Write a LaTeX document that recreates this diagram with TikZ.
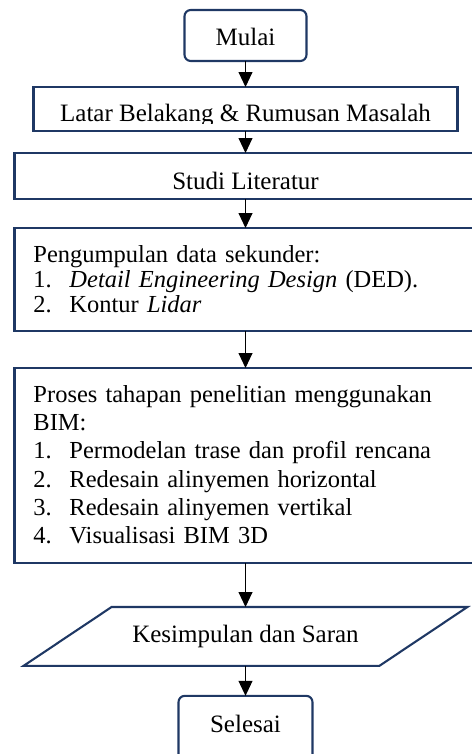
\documentclass[tikz,border=0pt,12pt]{standalone}
\usepackage{fontspec}
\setmainfont{Liberation Serif}
\usetikzlibrary{positioning, arrows.meta}
\definecolor{biru}{RGB}{31,56,100}
\newcommand{\butir}[2]{\makebox[17.28pt][l]{#1}#2}
\tikzset{
    >={Triangle[length=7.2pt, width=6.7pt]},      % filled arrow heads
    kotak/.style={draw=biru, line width=1pt, inner sep=0pt, outer sep=0pt},   % every box
    terminal/.style={kotak, rounded corners=3pt},              % Mulai / Selesai
    isi/.style={kotak, minimum width=221.76pt, text width=203.52pt,
        inner xsep=9.12pt, align=left},                        % boxes with lists
    panah/.style={->, line width=0.5pt},
}

\begin{document}
\begin{tikzpicture}[font=\fontsize{12pt}{13.8pt}\selectfont]
\useasboundingbox (0,0) rectangle (226.08pt,-361.92pt);

\node[terminal, minimum width=58.56pt, text height=16.8pt, text depth=7.68pt, anchor=north] (mulai) at (117.84pt,-4.8pt) {Mulai};
\node[kotak, below=12.48pt of mulai, minimum width=203.52pt, minimum height=21.12pt] (latar) {};
\begin{scope}
\clip ([yshift=3.6pt]latar.south west) rectangle (latar.north east);
\node[anchor=base, inner sep=0pt] (latarteks) at ([yshift=-16.7pt]latar.north) {Latar Belakang \& Rumusan Masalah};
\end{scope}
\node[kotak, below=10.56pt of latar, minimum width=221.76pt, text height=17.28pt, text depth=4.8pt] (studi) {Studi Literatur};
\node[isi, below=13.92pt of studi, text height=16.32pt, text depth=33.12pt, font=\fontsize{11.75pt}{12pt}\selectfont] (data)
    {Pengumpulan data sekunder:\\
     \butir{1.}{\textit{Detail Engineering Design} (DED).}\\
     \butir{2.}{Kontur \textit{Lidar}}};
\node[isi, below=17.76pt of data, text height=16.32pt, text depth=77.28pt, font=\fontsize{11.75pt}{13.6pt}\selectfont] (bim)
    {Proses tahapan penelitian menggunakan\\
     BIM:\\
     \butir{1.}{Permodelan trase dan profil rencana}\\
     \butir{2.}{Redesain alinyemen horizontal}\\
     \butir{3.}{Redesain alinyemen vertikal}\\
     \butir{4.}{Visualisasi BIM 3D}};
\node[below=21.12pt of bim, inner sep=0pt, minimum width=170.4pt, text height=16.8pt, text depth=11.04pt] (kesimpulan) {Kesimpulan dan Saran};
\draw[draw=biru, line width=1pt]
    ([xshift=21.12pt]kesimpulan.north west) -- ([xshift=21.12pt]kesimpulan.north east)
    -- ([xshift=-21.12pt]kesimpulan.south east) -- ([xshift=-21.12pt]kesimpulan.south west) -- cycle;
\node[terminal, below=14.4pt of kesimpulan, minimum width=64.32pt, text height=17.76pt, text depth=12.96pt] (selesai) {Selesai};

\draw[panah]
(mulai) edge (latar)
(latar) edge (studi)
(studi) edge (data)
(data) edge (bim)
(bim) edge (kesimpulan)
(kesimpulan) edge (selesai);

\end{tikzpicture}
\end{document}
